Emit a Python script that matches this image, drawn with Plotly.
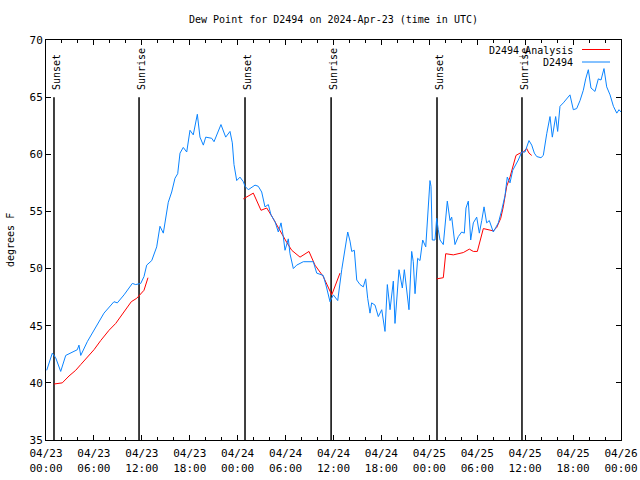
import pandas as pd
import plotly.graph_objects as go

BASE = pd.Timestamp("2024-04-23 00:00")

# Observed dew point (hours after 2024-04-23 00:00 UTC, deg F)
obs_hours = [0.09, 0.79, 1.21, 1.84, 2.47, 3.92, 4.13, 4.35, 5.17, 6.01, 7.26, 8.51, 8.93,
             9.77, 10.81, 11.23, 11.86, 12.27, 12.61, 13.24, 13.86, 14.27, 14.69, 15.31, 15.74,
             16.15, 16.49, 16.78, 17.19, 17.62, 18.03, 18.44, 18.95, 19.28, 19.70, 20.00, 20.75,
             21.04, 21.91, 22.50, 23.04, 23.33, 23.54, 23.88, 24.29, 24.71, 24.92, 25.33, 26.17,
             26.58, 27.01, 27.42, 27.84, 28.17, 28.68, 29.09, 29.43, 29.71, 29.93, 30.34, 30.55,
             30.97, 31.39, 32.22, 33.47, 33.90, 34.72, 35.15, 35.56, 35.98, 36.53, 37.03, 37.35,
             37.78, 38.07, 38.28, 38.61, 38.91, 39.32, 39.73, 40.03, 40.28, 40.57, 40.78, 41.20,
             41.61, 42.04, 42.45, 42.74, 43.08, 43.49, 43.70, 44.20, 44.62, 44.87, 45.17, 45.45,
             45.79, 45.99, 46.21, 46.54, 46.83, 47.17, 47.55, 47.75, 48.08, 48.21, 48.37, 48.71,
             48.92, 49.12, 49.34, 49.75, 49.96, 50.25, 50.59, 50.80, 51.21, 51.63, 52.05, 52.38,
             52.59, 52.88, 53.18, 53.51, 53.93, 54.26, 54.56, 54.85, 55.18, 55.51, 56.01, 56.64,
             57.06, 57.48, 57.76, 58.10, 58.44, 58.85, 59.14, 59.57, 59.98, 60.48, 60.82, 61.15,
             61.45, 61.98, 62.27, 62.70, 63.11, 63.40, 63.82, 64.07, 64.36, 64.78, 65.20, 65.61,
             66.03, 66.45, 66.87, 67.28, 67.58, 67.91, 68.24, 68.74, 69.16, 69.50, 69.87, 70.21,
             70.63, 71.05, 71.47, 71.75, 72.0]
obs_values = [41.1, 42.6, 42.2, 41.0, 42.4, 42.9, 43.3, 42.4, 43.6, 44.6, 46.1, 47.1, 47.0,
              47.7, 48.7, 48.6, 48.7, 49.3, 50.3, 50.7, 51.9, 53.7, 53.1, 55.8, 56.7,
              57.9, 58.3, 60.1, 60.6, 60.2, 62.1, 61.7, 63.5, 61.5, 60.8, 61.5, 61.4,
              61.1, 62.6, 61.5, 62.0, 61.0, 59.1, 57.7, 58.0, 57.6, 57.2, 56.9, 57.3,
              57.2, 56.7, 55.4, 55.6, 54.7, 54.1, 53.2, 54.0, 52.8, 51.6, 52.6, 51.3,
              50.0, 50.3, 50.6, 50.6, 49.6, 49.4, 48.3, 47.1, 47.7, 47.2, 49.9, 51.3,
              53.2, 52.4, 51.5, 51.6, 49.0, 48.6, 48.4, 49.1, 47.4, 46.1, 47.0, 46.8,
              45.8, 46.4, 44.5, 48.6, 46.4, 48.9, 45.2, 49.9, 48.3, 49.9, 48.1, 46.4,
              51.5, 50.6, 47.8, 50.9, 50.7, 52.5, 51.9, 54.1, 57.7, 57.2, 52.5, 52.5,
              54.4, 53.4, 52.5, 52.1, 54.0, 55.9, 54.2, 54.5, 52.1, 52.8, 53.2, 53.1,
              55.3, 55.9, 52.5, 54.0, 54.5, 53.1, 54.2, 55.4, 54.0, 54.2, 53.2, 54.0,
              55.1, 56.4, 58.0, 57.5, 58.6, 59.1, 59.5, 60.2, 60.2, 61.2, 60.8, 60.1,
              59.8, 59.7, 59.9, 61.8, 63.3, 61.5, 63.3, 62.0, 64.2, 64.5, 64.9, 65.2,
              63.9, 64.0, 64.7, 65.6, 66.6, 67.4, 65.8, 65.5, 66.6, 66.5, 67.5, 65.9,
              65.2, 64.2, 63.6, 63.9, 63.7]

# Analysis dew point (None = gap)
ana_hours = [1.00, 2.04, 2.88, 3.72, 4.35, 4.97, 6.01, 6.85, 7.89, 8.73, 9.77, 10.68, 11.36,
             11.86, 12.27, 12.77, None,
             24.71, 25.96, 26.92, 27.64, 28.26, 28.89, 29.51, 30.14, 30.77, 31.81, 32.93, 33.68,
             34.72, 35.78, 36.81, None,
             48.92, 49.75, 50.05, 51.00, 52.25, 53.01, 53.51, 54.01, 54.76, 55.26, 56.01, 56.44,
             56.94, 57.26, 57.69, 58.10, 58.52, 58.85, 59.35, 59.77, 60.19, 60.48, 60.82]
ana_values = [39.9, 40.0, 40.6, 41.1, 41.6, 42.1, 42.9, 43.7, 44.6, 45.2, 46.2, 47.1, 47.4,
              47.8, 48.1, 49.2, None,
              56.1, 56.6, 55.1, 55.3, 54.6, 53.8, 53.1, 52.3, 51.6, 51.0, 51.5, 50.3,
              49.3, 47.7, 49.6, None,
              49.1, 49.2, 51.3, 51.2, 51.4, 51.7, 51.5, 51.5, 53.5, 53.4, 53.3, 53.6,
              54.4, 55.4, 57.2, 58.0, 59.2, 59.9, 60.1, 60.2, 60.5, 60.1, 59.9]

# Sun events
sun_hours = [1.0, 11.65, 24.92, 35.7, 48.96, 59.6]
sun_labels = ["Sunset", "Sunrise", "Sunset", "Sunrise", "Sunset", "Sunrise"]

tick_hours = list(range(0, 73, 6))
tick_labels = ["04/23<br>00:00", "04/23<br>06:00", "04/23<br>12:00", "04/23<br>18:00",
               "04/24<br>00:00", "04/24<br>06:00", "04/24<br>12:00", "04/24<br>18:00",
               "04/25<br>00:00", "04/25<br>06:00", "04/25<br>12:00", "04/25<br>18:00",
               "04/26<br>00:00"]
y_ticks = [35, 40, 45, 50, 55, 60, 65, 70]


def to_time(hours):
    return [None if h is None else BASE + pd.Timedelta(hours=h) for h in hours]


FONT = "DejaVu Sans Mono"
FS = 10
BLUE = "#0a84ff"
RED = "#ff0000"

fig = go.Figure()

# Sun event vertical lines
for h in sun_hours:
    t = BASE + pd.Timedelta(hours=h)
    fig.add_trace(go.Scatter(x=[t, t], y=[35, 65], mode="lines",
                             line=dict(color="black", width=1.5),
                             showlegend=False, hoverinfo="skip"))

fig.add_trace(go.Scatter(x=to_time(ana_hours), y=ana_values, mode="lines",
                         line=dict(color=RED, width=1), connectgaps=False,
                         name="D2494_Analysis", showlegend=False))
fig.add_trace(go.Scatter(x=to_time(obs_hours), y=obs_values, mode="lines",
                         line=dict(color=BLUE, width=1),
                         name="D2494", showlegend=False))

annotations = []
for h, lab in zip(sun_hours, sun_labels):
    annotations.append(dict(x=BASE + pd.Timedelta(hours=h), y=65.45, xref="x", yref="y",
                            text=lab, textangle=-90, showarrow=False,
                            xanchor="center", yanchor="bottom", xshift=2,
                            font=dict(family=FONT, size=FS, color="black")))

# custom gnuplot-style legend (text left of line sample)
W, H = 575.0, 400.0
def px(xp):
    return (xp - 46) / W
def py(yp):
    return (440 - yp) / H

annotations.append(dict(x=px(575), y=py(50.5), xref="paper", yref="paper",
                        text="D2494_Analysis", showarrow=False,
                        xanchor="right", yanchor="middle",
                        font=dict(family=FONT, size=FS, color="black")))
annotations.append(dict(x=px(575), y=py(62.5), xref="paper", yref="paper",
                        text="D2494", showarrow=False,
                        xanchor="right", yanchor="middle",
                        font=dict(family=FONT, size=FS, color="black")))
annotations.append(dict(x=px(10), y=0.5, xref="paper", yref="paper",
                        text="degrees F", textangle=-90, showarrow=False,
                        xanchor="center", yanchor="middle",
                        font=dict(family=FONT, size=FS, color="black")))

shapes = [
    dict(type="line", xref="paper", yref="paper", x0=px(582), x1=px(610),
         y0=py(49.5), y1=py(49.5), line=dict(color=RED, width=1)),
    dict(type="line", xref="paper", yref="paper", x0=px(582), x1=px(610),
         y0=py(62), y1=py(62), line=dict(color=BLUE, width=1)),
]

fig.update_layout(
    width=640, height=480,
    margin=dict(l=46, r=19, t=40, b=40, pad=0, autoexpand=False),
    paper_bgcolor="white", plot_bgcolor="white",
    font=dict(family=FONT, size=FS, color="black"),
    title=dict(text="Dew Point for D2494 on 2024-Apr-23 (time in UTC)",
               x=0.5, xref="paper", xanchor="center", y=1 - 19 / 480, yanchor="middle",
               font=dict(family=FONT, size=FS, color="black")),
    annotations=annotations,
    shapes=shapes,
    showlegend=False,
)

fig.update_xaxes(
    type="date", automargin=False,
    range=[BASE, BASE + pd.Timedelta(hours=72)],
    tickvals=to_time(tick_hours), ticktext=tick_labels,
    ticks="inside", ticklen=5, tickcolor="black", tickwidth=1,
    ticklabelstandoff=3,
    minor=dict(dtick=2 * 3600 * 1000, tick0=BASE, ticks="inside", ticklen=3,
               tickcolor="black", showgrid=False),
    showline=True, linecolor="black", linewidth=1, mirror="allticks",
    showgrid=False, zeroline=False,
    tickfont=dict(family=FONT, size=FS + 1, color="black"),
)
fig.update_yaxes(
    range=[35, 70], tickvals=y_ticks, automargin=False,
    ticks="inside", ticklen=5, tickcolor="black", tickwidth=1,
    showline=True, linecolor="black", linewidth=1, mirror="allticks",
    showgrid=False, zeroline=False,
    tickfont=dict(family=FONT, size=FS + 1, color="black"),
)

fig.write_html("out.html",
               config={"displayModeBar": False},
               post_script="document.body.style.margin='0';document.body.style.overflow='hidden';")
